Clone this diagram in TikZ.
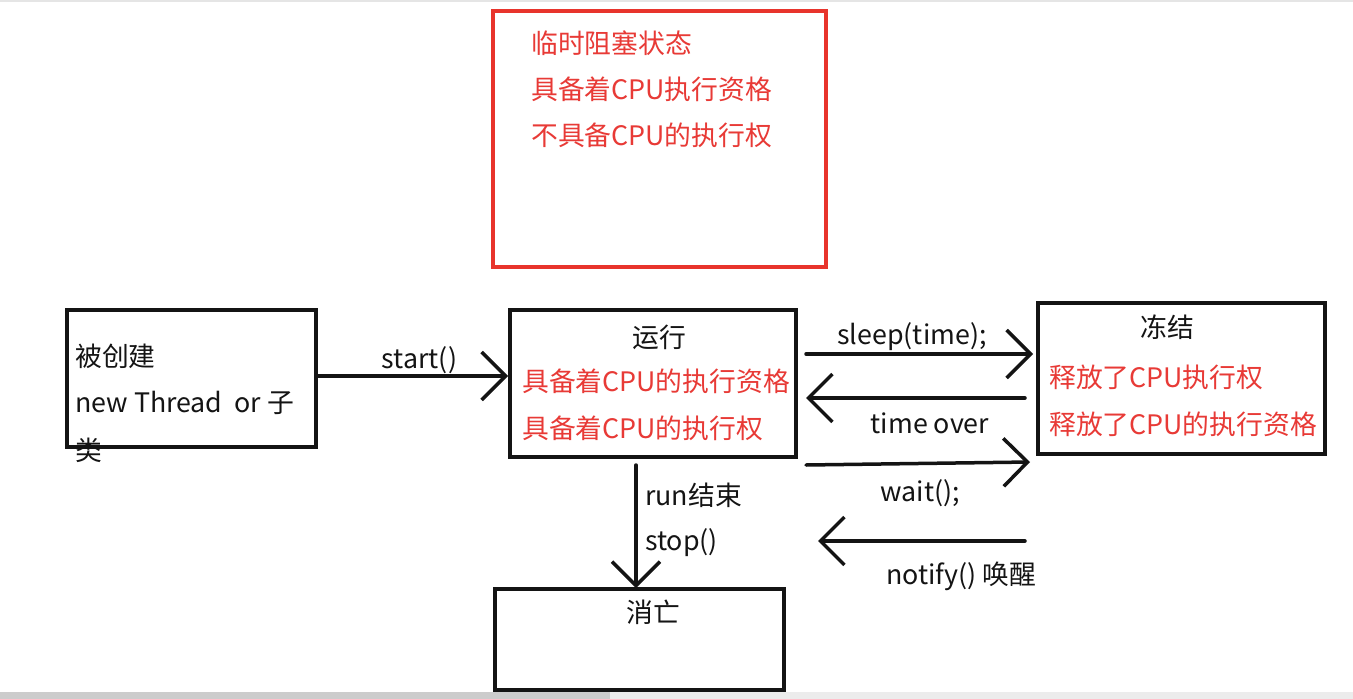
\documentclass[tikz,border=0pt]{standalone}
\usepackage{fontspec}
\setmainfont{Noto Sans CJK SC}
\usetikzlibrary{arrows.meta}
\definecolor{redtxt}{HTML}{E83A36}
\definecolor{redbox}{HTML}{E8342C}
\definecolor{blk}{HTML}{141414}
\tikzset{
  box/.style={draw=blk, line width=3.5pt, inner sep=0pt},
  redframe/.style={draw=redbox, line width=3.5pt, inner sep=0pt},
  txt/.style={inner sep=0pt, text=blk, font=\fontsize{26.8}{30}\selectfont},
  rtxt/.style={txt, text=redtxt},
  conn/.style={draw=blk, line width=3.5pt, line cap=round, -{Straight Barb[length=24pt, width=48pt]}},
}
\begin{document}
\begin{tikzpicture}[x=1pt, y=-1pt]
\useasboundingbox (0,0) rectangle (1353,699);
\fill[white] (0,0) rectangle (1353,699);
\fill[gray!20] (0,0) rectangle (1353,2);
\fill[gray!15] (0,692) rectangle (1353,699);
\fill[gray!40] (0,692) rectangle (610,699);

% boxes
\node[redframe, minimum width=333pt, minimum height=256pt] (blocked) at (659.5,139) {};
\node[box, minimum width=249pt, minimum height=137pt] (created) at (191.5,378.5) {};
\node[box, minimum width=286pt, minimum height=147pt] (running) at (653,383.5) {};
\node[box, minimum width=287pt, minimum height=151pt] (frozen) at (1181.5,378.5) {};
\node[box, minimum width=289pt, minimum height=101pt] (dead) at (639.5,639.5) {};

% blocked text
\node[rtxt, anchor=west] (b1) at (531,43) {临时阻塞状态};
\node[rtxt, anchor=west] (b2) at (531,89) {具备着CPU执行资格};
\node[rtxt, anchor=west] (b3) at (531,135) {不具备CPU的执行权};

% created text
\node[txt, anchor=west] (c1) at (75,356) {被创建};
\node[txt, anchor=west] (c2) at (75,403) {new Thread\ \ or 子};
\node[txt, anchor=west] (c3) at (75,450) {类};

% running text
\node[txt] (r0) at (659,337) {运行};
\node[rtxt, anchor=west] (r1) at (522,381) {具备着CPU的执行资格};
\node[rtxt, anchor=west] (r2) at (522,428) {具备着CPU的执行权};

% frozen text
\node[txt] (f0) at (1167,327) {冻结};
\node[rtxt, anchor=west] (f1) at (1049,377) {释放了CPU执行权};
\node[rtxt, anchor=west] (f2) at (1049,424) {释放了CPU的执行资格};

% dead text
\node[txt] (d0) at (653,612) {消亡};

% connector endpoints
\coordinate (s0) at (318,376);   \coordinate (s1) at (508,376);
\coordinate (sl0) at (806,354);  \coordinate (sl1) at (1033,354);
\coordinate (to0) at (1025,398); \coordinate (to1) at (806,398);
\coordinate (w0) at (806,465);   \coordinate (w1) at (1030,462);
\coordinate (n0) at (1025,541);  \coordinate (n1) at (818,541);
\coordinate (e0) at (636,465);   \coordinate (e1) at (636,588);

\draw[conn] (s0) -- (s1);
\draw[conn] (sl0) -- (sl1);
\draw[conn] (to0) -- (to1);
\draw[conn] (w0) -- (w1);
\draw[conn] (n0) -- (n1);
\draw[conn] (e0) -- (e1);

% connector labels
\node[txt] (lstart) at (419.5,360) {start()};
\node[txt] (lsleep) at (912,337) {sleep(time);};
\node[txt] (ltime) at (930,423) {time over};
\node[txt] (lwait) at (920,493) {wait();};
\node[txt] (lnotify) at (961,576) {notify() 唤醒};
\node[txt, anchor=west] (lrun) at (645,495) {run结束};
\node[txt, anchor=west] (lstop) at (645,543) {stop()};
\end{tikzpicture}
\end{document}
